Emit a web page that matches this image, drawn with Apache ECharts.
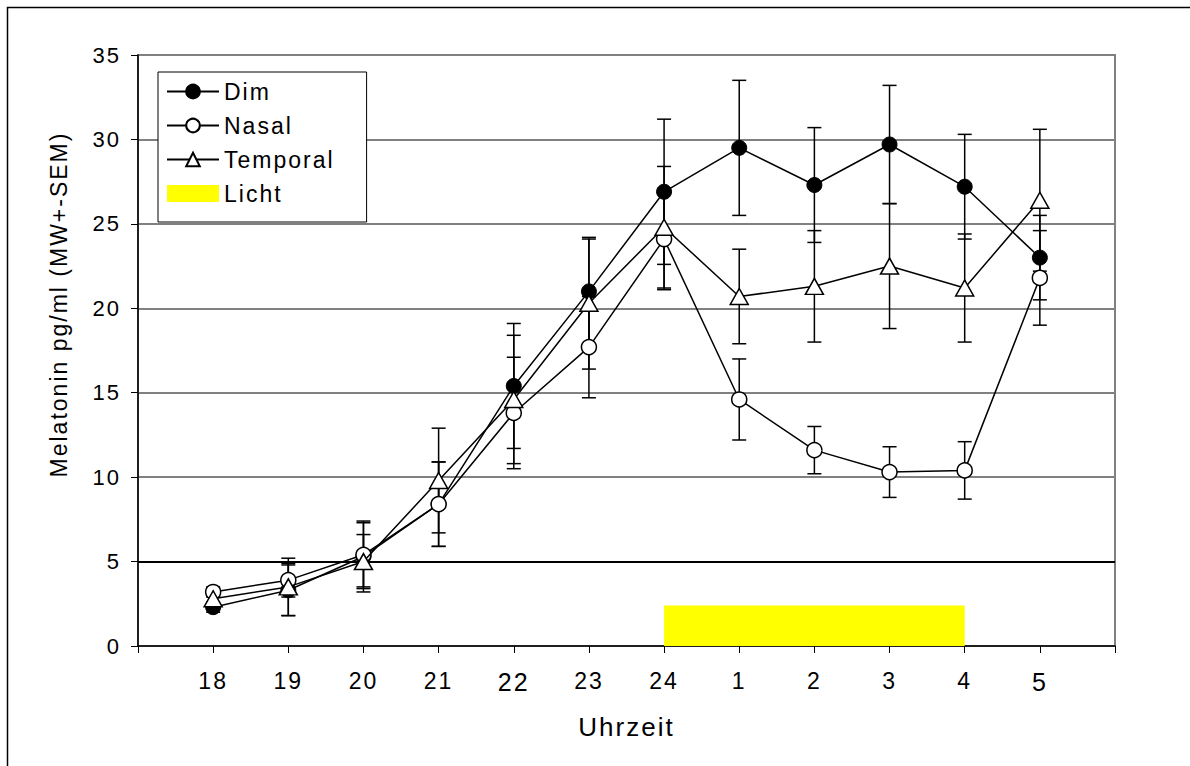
<!DOCTYPE html>
<html>
<head>
<meta charset="utf-8">
<title>Melatonin</title>
<script src="https://cdn.jsdelivr.net/npm/echarts@6/dist/echarts.min.js"></script>
<style>
  html, body { margin: 0; padding: 0; background: #fff; }
  #chart { width: 1190px; height: 766px; }
  /* the original export draws its text slightly spaced */
  #chart text { letter-spacing: 2px; }
</style>
</head>
<body>
<div id="chart"></div>
<script>
// Uhrzeit (x axis)
var hours = ['18', '19', '20', '21', '22', '23', '24', '1', '2', '3', '4', '5'];

// Melatonin pg/ml, mean and SEM
var dim = [2.3, 3.3, 5.3, 8.4, 15.4, 21.0, 26.9, 29.5, 27.3, 29.7, 27.2, 23.0];
var dimSem = [0.3, 1.5, 2.1, 2.5, 3.7, 3.1, 4.3, 4.0, 3.4, 3.5, 3.1, 2.5];
var nasal = [3.2, 3.9, 5.4, 8.4, 13.8, 17.7, 24.1, 14.6, 11.6, 10.3, 10.4, 21.8];
var nasalSem = [0.3, 1.0, 1.9, 2.5, 3.3, 3.0, 3.0, 2.4, 1.4, 1.5, 1.7, 2.8];
var temporal = [2.8, 3.5, 5.0, 9.8, 14.6, 20.3, 24.8, 20.7, 21.3, 22.5, 21.2, 26.4];
var temporalSem = [0.3, 1.7, 1.6, 3.1, 3.8, 3.9, 3.6, 2.8, 3.3, 3.7, 3.2, 4.2];

// light period (24 - 4)
var licht = [null, null, null, null, null, null, 2.4, 2.4, 2.4, 2.4, 2.4, null];

var yTicks = { min: 0, max: 35, step: 5 };

// axis has an empty slot before 18 and after 5
var categories = [''].concat(hours, ['']);
function pad(arr) {
  return [null].concat(arr, [null]);
}
function errData(mean, sem) {
  return mean.map(function (v, i) {
    return [i + 1, v - sem[i], v + sem[i]];
  });
}

function renderErr(params, api) {
  var x = api.value(0);
  var lo = api.coord([x, api.value(1)]);
  var hi = api.coord([x, api.value(2)]);
  var w = 7;
  var st = { stroke: '#000', lineWidth: 1.5 };
  return {
    type: 'group',
    children: [
      { type: 'line', shape: { x1: hi[0], y1: hi[1], x2: lo[0], y2: lo[1] }, style: st },
      { type: 'line', shape: { x1: hi[0] - w, y1: hi[1], x2: hi[0] + w, y2: hi[1] }, style: st },
      { type: 'line', shape: { x1: lo[0] - w, y1: lo[1], x2: lo[0] + w, y2: lo[1] }, style: st }
    ]
  };
}

var font = "'Liberation Sans', Arial, sans-serif";
var gridColors = [];
for (var v = yTicks.min; v <= yTicks.max; v += yTicks.step) {
  gridColors.push(v === 5 ? '#000' : '#808080');
}

var chart = echarts.init(document.getElementById('chart'), null, { renderer: 'svg' });

var option = {
  animation: false,
  textStyle: { fontFamily: font, color: '#000' },
  graphic: [
    {
      type: 'rect',
      shape: { x: 7.5, y: 7.5, width: 1300, height: 900 },
      style: { fill: 'none', stroke: '#000', lineWidth: 1.5 },
      silent: true
    }
  ],
  grid: {
    left: 138,
    right: 75,
    top: 55,
    bottom: 120,
    show: true,
    borderColor: '#808080',
    borderWidth: 2
  },
  legend: {
    orient: 'vertical',
    left: 158,
    top: 72,
    padding: [8, 48, 17, 8],
    itemGap: 11,
    itemWidth: 52,
    itemHeight: 17,
    backgroundColor: '#fff',
    borderColor: '#000',
    borderWidth: 1,
    borderRadius: 0,
    selectedMode: false,
    textStyle: { fontFamily: font, fontSize: 23, color: '#000' },
    data: ['Dim', 'Nasal', 'Temporal', { name: 'Licht', icon: 'rect', itemStyle: { borderWidth: 0 } }],
    z: 20
  },
  xAxis: {
    type: 'category',
    data: categories,
    boundaryGap: false,
    name: 'Uhrzeit',
    nameLocation: 'middle',
    nameGap: 68,
    nameTextStyle: { fontFamily: font, fontSize: 26, color: '#000' },
    axisLine: { lineStyle: { color: '#000', width: 1.5 } },
    axisTick: { show: true, length: 7, interval: 0, lineStyle: { color: '#000', width: 1 } },
    axisLabel: {
      interval: 0,
      margin: 23,
      fontFamily: font,
      fontSize: 23,
      color: '#000',
      verticalAlign: 'top',
      formatter: function (val) {
        return (val === '22' || val === '5') ? '{big|' + val + '}' : val;
      },
      rich: {
        big: { fontFamily: font, fontSize: 25, color: '#000' }
      }
    },
    splitLine: { show: false }
  },
  yAxis: {
    type: 'value',
    min: yTicks.min,
    max: yTicks.max,
    interval: yTicks.step,
    name: 'Melatonin pg/ml (MW+-SEM)',
    nameLocation: 'middle',
    nameRotate: 90,
    nameGap: 68,
    nameTextStyle: { fontFamily: font, fontSize: 23, color: '#000', padding: [0, 0, 0, 92] },
    axisLine: { show: true, lineStyle: { color: '#000', width: 1.5 } },
    axisTick: { show: true, length: 7, lineStyle: { color: '#000', width: 1 } },
    axisLabel: { margin: 17, fontFamily: font, fontSize: 22, color: '#000' },
    splitLine: { show: true, lineStyle: { color: gridColors, width: 2 } }
  },
  series: [
    {
      name: 'Licht',
      type: 'line',
      data: pad(licht),
      symbol: 'none',
      itemStyle: { color: '#ffff00' },
      lineStyle: { width: 0, color: '#ffff00' },
      areaStyle: { color: '#ffff00', opacity: 1 },
      z: 1
    },
    {
      name: 'Dim SEM',
      type: 'custom',
      renderItem: renderErr,
      data: errData(dim, dimSem),
      encode: { x: 0, y: [1, 2] },
      z: 2
    },
    {
      name: 'Nasal SEM',
      type: 'custom',
      renderItem: renderErr,
      data: errData(nasal, nasalSem),
      encode: { x: 0, y: [1, 2] },
      z: 2
    },
    {
      name: 'Temporal SEM',
      type: 'custom',
      renderItem: renderErr,
      data: errData(temporal, temporalSem),
      encode: { x: 0, y: [1, 2] },
      z: 2
    },
    {
      name: 'Dim',
      type: 'line',
      data: pad(dim),
      symbol: 'circle',
      symbolSize: 15,
      itemStyle: { color: '#000', borderColor: '#000', borderWidth: 1 },
      lineStyle: { color: '#000', width: 1.5 },
      z: 3
    },
    {
      name: 'Nasal',
      type: 'line',
      data: pad(nasal),
      symbol: 'circle',
      symbolSize: 15,
      itemStyle: { color: '#fff', borderColor: '#000', borderWidth: 1.5 },
      lineStyle: { color: '#000', width: 1.5 },
      z: 4
    },
    {
      name: 'Temporal',
      type: 'line',
      data: pad(temporal),
      symbol: 'triangle',
      symbolSize: [18, 16],
      itemStyle: { color: '#fff', borderColor: '#000', borderWidth: 1.5 },
      lineStyle: { color: '#000', width: 1.5 },
      z: 5
    }
  ]
};

chart.setOption(option);
</script>
</body>
</html>
